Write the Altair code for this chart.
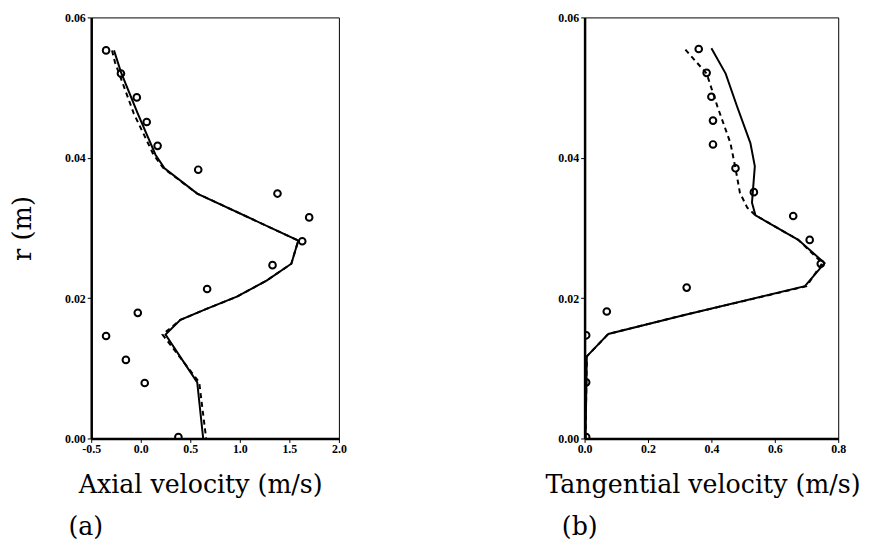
import altair as alt
import pandas as pd

# ---- experimental points (circles) ----
ax_exp_r = [0.0553, 0.0520, 0.0486, 0.0451, 0.0417, 0.0383, 0.0349, 0.0315,
            0.0281, 0.0247, 0.0213, 0.0179, 0.0146, 0.0112, 0.0079, 0.0002]
ax_exp_v = [-0.35, -0.20, -0.04, 0.06, 0.17, 0.58, 1.38, 1.70,
            1.63, 1.33, 0.67, -0.03, -0.35, -0.15, 0.04, 0.38]

tg_exp_r = [0.0555, 0.0521, 0.0487, 0.0453, 0.0419, 0.0385, 0.0351, 0.0317,
            0.0283, 0.0249, 0.0215, 0.0181, 0.0147, 0.0080, 0.0002]
tg_exp_v = [0.36, 0.385, 0.40, 0.405, 0.405, 0.476, 0.534, 0.658,
            0.71, 0.745, 0.322, 0.07, 0.005, 0.005, 0.005]

# ---- computed profiles: solid ----
ax_sol_r = [0.0553, 0.0522, 0.0463, 0.0404, 0.0385, 0.0349, 0.0282, 0.0249,
            0.0225, 0.0202, 0.0185, 0.0169, 0.0148, 0.0080, 0.0]
ax_sol_v = [-0.27, -0.20, -0.03, 0.15, 0.24, 0.57, 1.59, 1.52,
            1.27, 0.97, 0.67, 0.40, 0.25, 0.57, 0.63]
# ---- computed profiles: dashed ----
ax_dsh_r = [0.0553, 0.0536, 0.0463, 0.0404, 0.0385, 0.0349, 0.0282, 0.0249,
            0.0225, 0.0202, 0.0185, 0.0169, 0.0148, 0.0080, 0.0]
ax_dsh_v = [-0.29, -0.26, -0.07, 0.13, 0.23, 0.57, 1.59, 1.52,
            1.27, 0.97, 0.67, 0.40, 0.22, 0.59, 0.66]

tg_sol_r = [0.0556, 0.0520, 0.0473, 0.0421, 0.0388, 0.0336, 0.0318, 0.0283,
            0.0250, 0.0217, 0.0176, 0.0149, 0.0117, 0.0]
tg_sol_v = [0.40, 0.445, 0.481, 0.523, 0.537, 0.528, 0.539, 0.674,
            0.757, 0.695, 0.315, 0.075, 0.007, 0.003]
tg_dsh_r = [0.0554, 0.0520, 0.0473, 0.0421, 0.0385, 0.0350, 0.0329, 0.0318,
            0.0283, 0.0250, 0.0217, 0.0176, 0.0149, 0.0117, 0.0]
tg_dsh_v = [0.318, 0.385, 0.419, 0.46, 0.476, 0.49, 0.513, 0.539,
            0.674, 0.75, 0.70, 0.315, 0.075, 0.007, 0.003]

ax_ticks = [-0.5, 0.0, 0.5, 1.0, 1.5, 2.0]
tg_ticks = [0.0, 0.2, 0.4, 0.6, 0.8]
r_ticks = [0.00, 0.02, 0.04, 0.06]


def line_df(r, v):
    return pd.DataFrame({"r": r, "v": v, "i": list(range(len(r)))})


TICK_FONT = "Liberation Serif"
TITLE_FONT = "DejaVu Serif"
TITLE_SIZE = 25.5


def panel(exp_r, exp_v, sol_r, sol_v, dsh_r, dsh_v, dom, ticks, xtitle, tag,
          width, show_ytitle, title_x):
    xscale = alt.Scale(domain=dom, nice=False, zero=False)
    yscale = alt.Scale(domain=[0, 0.06], nice=False, zero=False)
    xaxis = alt.Axis(values=ticks,
                     labelExpr="datum.value < 0 ? '-' + format(-datum.value, '.1f') : format(datum.value, '.1f')",
                     title=xtitle, grid=False, tickSize=4, labelPadding=1,
                     titlePadding=19, titleFont=TITLE_FONT, titleFontSize=TITLE_SIZE,
                     titleFontWeight="normal", titleX=title_x, titleAnchor="start",
                     titleAlign="center",
                     labelFont=TICK_FONT,
                     labelFontSize=12, labelFontWeight="bold",
                     domainWidth=2.5, domainColor="black", tickColor="black",
                     labelColor="black", titleColor="black", labelFlush=False)
    yaxis = alt.Axis(values=r_ticks, format=".2f",
                     title="r (m)" if show_ytitle else None,
                     grid=False, tickSize=4, labelPadding=2,
                     titlePadding=29, titleFont=TITLE_FONT, titleFontSize=26,
                     titleFontWeight="normal", labelFont=TICK_FONT,
                     labelFontSize=12, labelFontWeight="bold",
                     domainWidth=2.5, domainColor="black", tickColor="black",
                     labelColor="black", titleColor="black", labelFlush=False)
    x = alt.X("v:Q", scale=xscale, axis=xaxis)
    y = alt.Y("r:Q", scale=yscale, axis=yaxis)

    solid = alt.Chart(line_df(sol_r, sol_v)).mark_line(
        color="black", strokeWidth=2, clip=True
    ).encode(x=x, y=y, order="i:Q")
    dashed = alt.Chart(line_df(dsh_r, dsh_v)).mark_line(
        color="black", strokeWidth=2, strokeDash=[5, 4], clip=True
    ).encode(x=x, y=y, order="i:Q")
    pts = alt.Chart(pd.DataFrame({"r": exp_r, "v": exp_v})).mark_point(
        shape="circle", filled=False, color="black", size=45, strokeWidth=2,
        opacity=1, clip=True
    ).encode(x=x, y=y)

    return alt.layer(dashed, solid, pts).properties(
        width=width, height=425,
        title=alt.TitleParams(tag, orient="bottom", anchor="start", frame="group",
                              font=TITLE_FONT, fontSize=TITLE_SIZE, fontWeight="normal",
                              color="black", offset=17, dx=-23)
    )


left = panel(ax_exp_r, ax_exp_v, ax_sol_r, ax_sol_v, ax_dsh_r, ax_dsh_v,
             [-0.5, 2.0], ax_ticks, "Axial velocity (m/s)", "(a)", 250, True, 110)
right = panel(tg_exp_r, tg_exp_v, tg_sol_r, tg_sol_v, tg_dsh_r, tg_dsh_v,
              [0.0, 0.8], tg_ticks, "Tangential velocity (m/s)", "(b)", 256, False, 119)

chart = alt.hconcat(left, right, spacing=199).configure_view(
    stroke="black", strokeWidth=1
).properties(
    padding={"left": 1, "top": 0, "right": 0, "bottom": 0},
    background="white"
)

chart.save("out.html", embed_options={"renderer": "svg", "actions": False})
